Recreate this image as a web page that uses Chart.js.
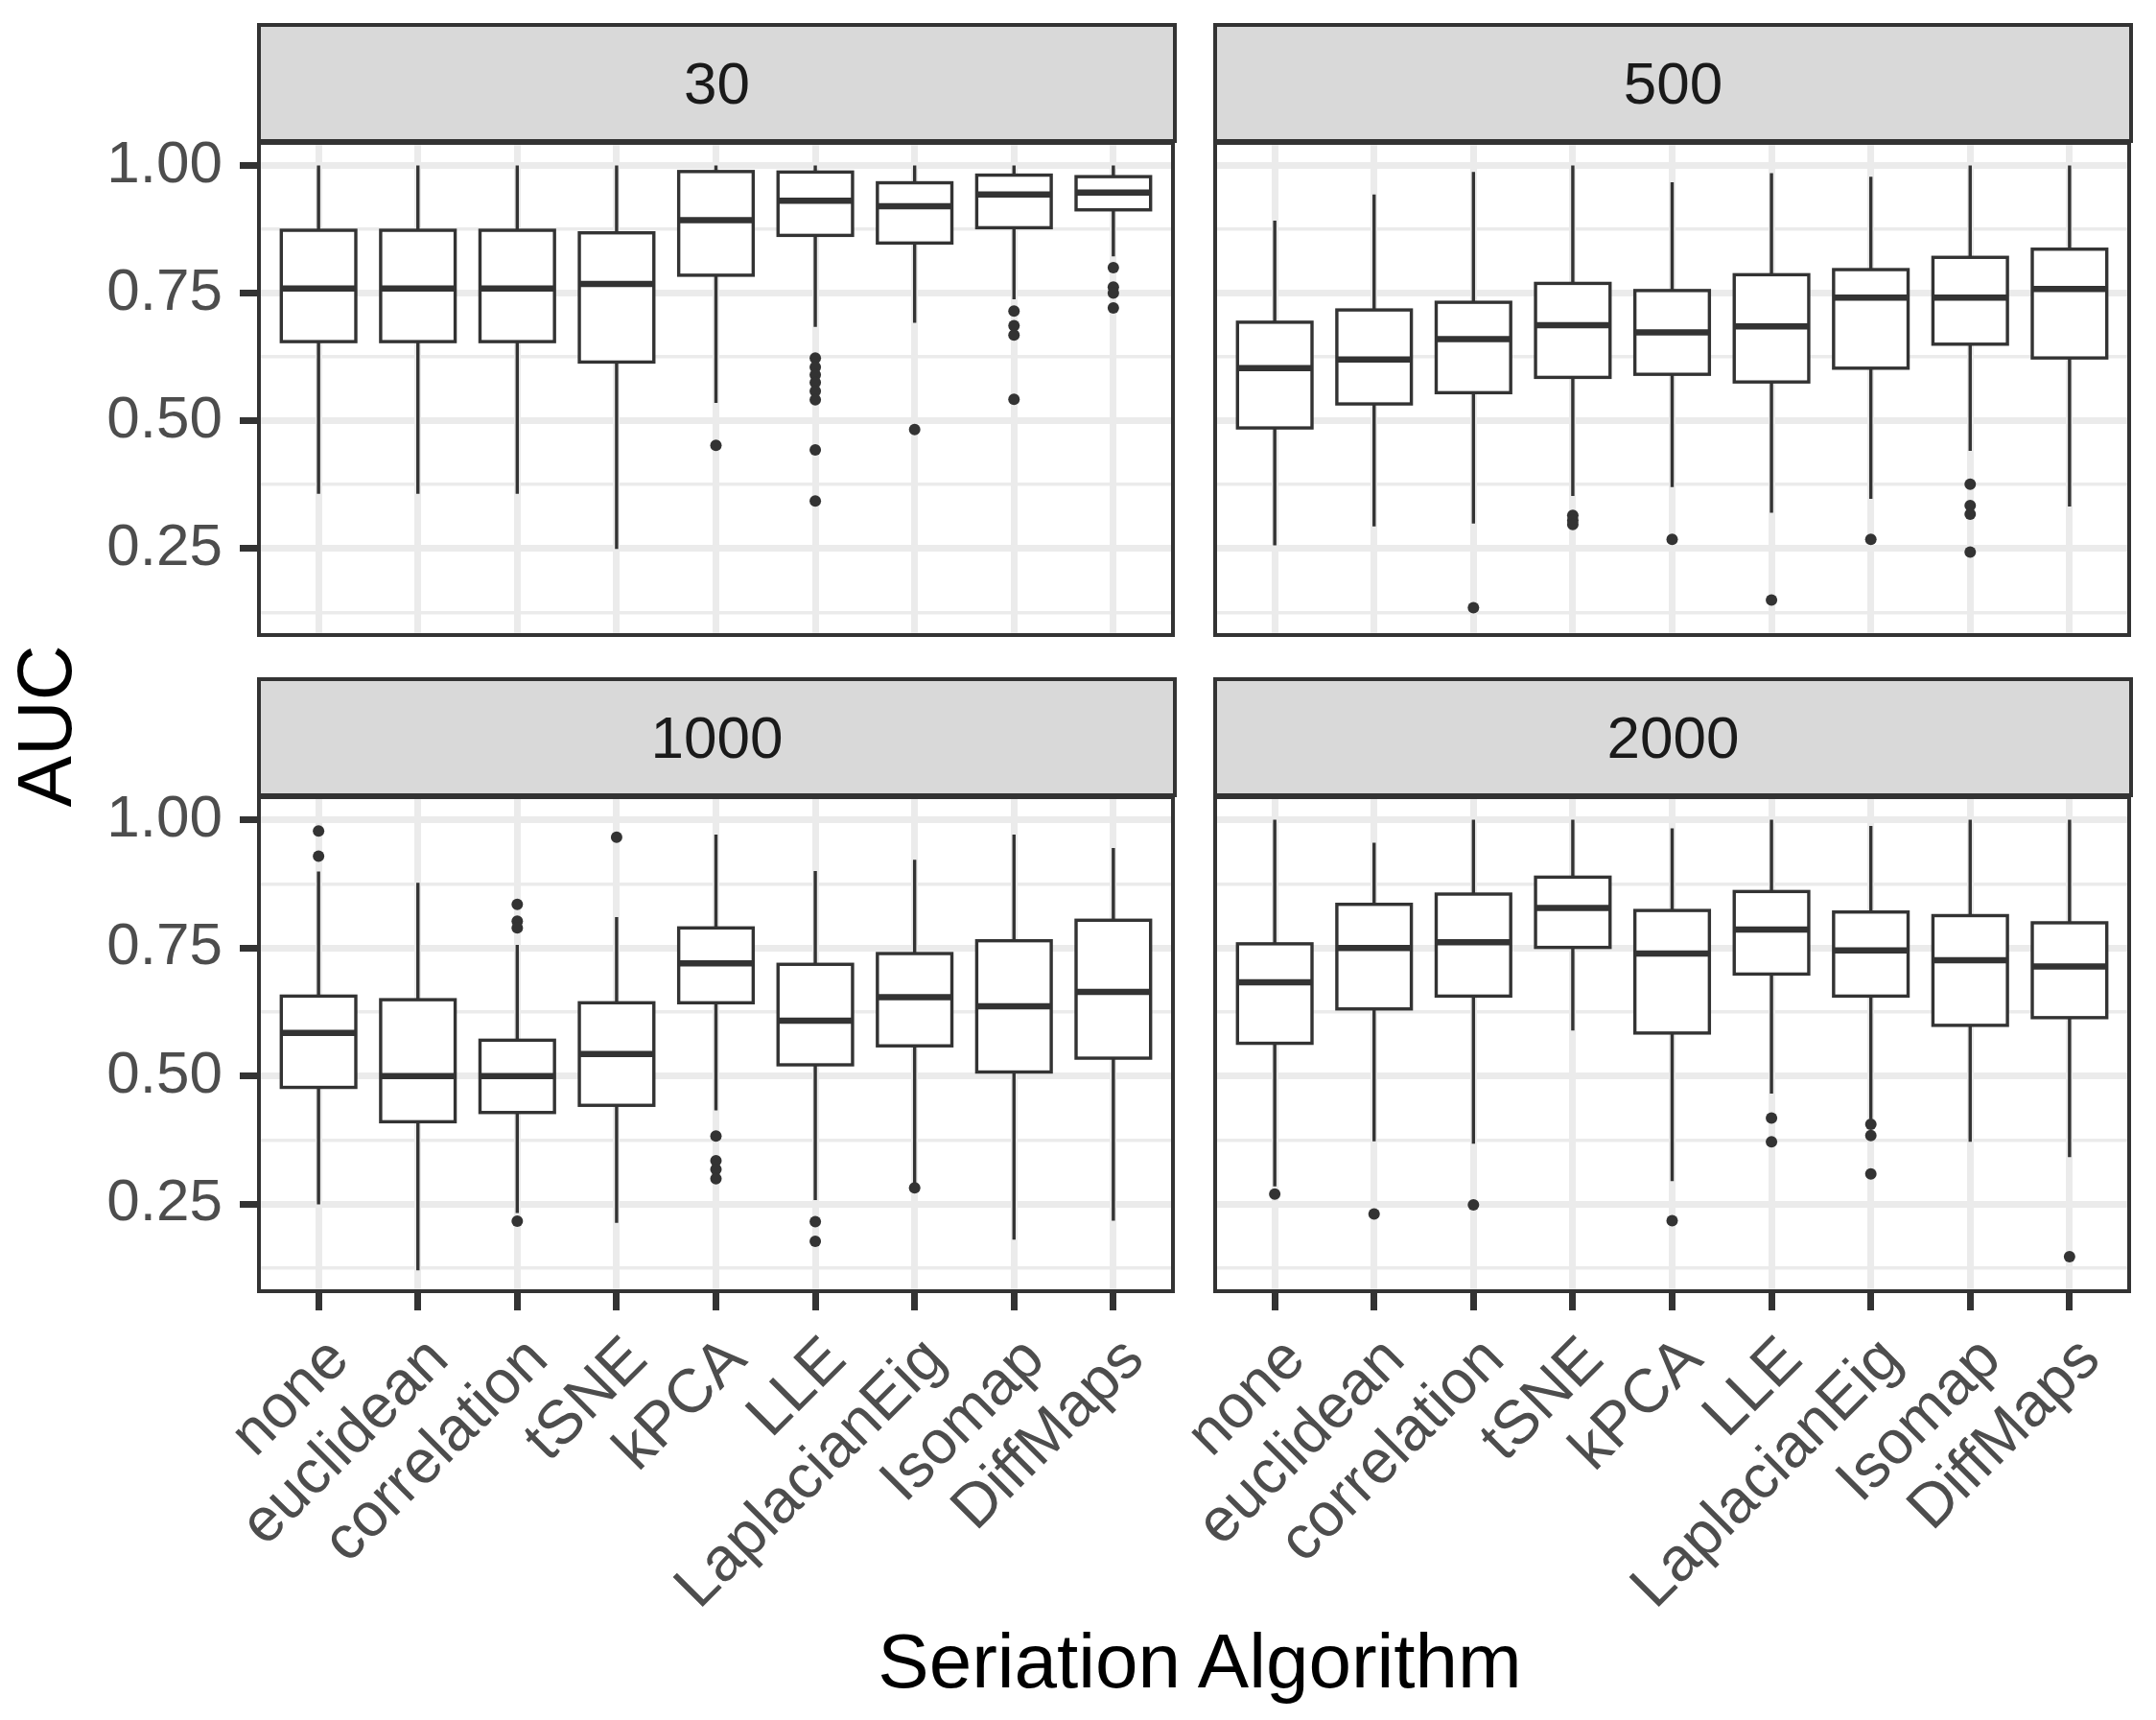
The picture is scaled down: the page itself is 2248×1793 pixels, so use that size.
<!DOCTYPE html>
<html>
<head>
<meta charset="utf-8">
<script src="https://cdn.jsdelivr.net/npm/chart.js@4.4.1/dist/chart.umd.min.js"></script>
<style>
  html, body { margin: 0; padding: 0; background: #fff; }
  body { width: 2248px; height: 1793px; position: relative; overflow: hidden;
         font-family: 'Liberation Sans', Arial, sans-serif; }
  .panel { position: absolute; }
  .strip { position: absolute; background: #D9D9D9; border: 4px solid #333; box-sizing: border-box;
           color: #1A1A1A; font-size: 62px; display: flex; align-items: center; justify-content: center; }
  .title { position: absolute; color: #000; font-size: 80px; white-space: nowrap; }
</style>
</head>
<body>
<div class="title" style="left:47px; top:757px; transform: translate(-50%,-50%) rotate(-90deg);">AUC</div>
<div class="title" style="left:1251px; top:1732px; transform: translate(-50%,-50%);">Seriation Algorithm</div>
<script>
// categories and facet titles
const algorithms = ['none', 'euclidean', 'correlation', 'tSNE', 'kPCA', 'LLE', 'LaplacianEig', 'Isomap', 'DiffMaps'];
const facetTitles = ['30', '500', '1000', '2000'];

// y axis
const yMin = 0.0805, yMax = 1.044;
const yMajor = [0.25, 0.5, 0.75, 1.0];
const yMinor = [0.125, 0.375, 0.625, 0.875];

// facet "30"
const lower30  = [0.357, 0.357, 0.357, 0.249, 0.535, 0.684, 0.692, 0.738, 0.822];
const q1_30    = [0.655, 0.655, 0.655, 0.615, 0.785, 0.863, 0.848, 0.878, 0.913];
const median30 = [0.759, 0.759, 0.759, 0.768, 0.893, 0.931, 0.920, 0.943, 0.947];
const q3_30    = [0.873, 0.873, 0.873, 0.868, 0.988, 0.987, 0.966, 0.981, 0.978];
const upper30  = [1.000, 1.000, 1.000, 1.000, 1.000, 1.000, 1.000, 1.000, 1.000];
const outliers30 = [[], [], [], [], [0.452], [0.623, 0.605, 0.590, 0.575, 0.558, 0.541, 0.443, 0.343],
                    [0.483], [0.715, 0.686, 0.668, 0.542], [0.800, 0.762, 0.750, 0.721]];

// facet "500"
const lower500  = [0.256, 0.293, 0.299, 0.353, 0.370, 0.320, 0.347, 0.441, 0.332];
const q1_500    = [0.486, 0.533, 0.555, 0.585, 0.591, 0.576, 0.603, 0.650, 0.623];
const median500 = [0.603, 0.620, 0.660, 0.687, 0.673, 0.685, 0.741, 0.741, 0.758];
const q3_500    = [0.693, 0.717, 0.732, 0.769, 0.755, 0.786, 0.796, 0.820, 0.836];
const upper500  = [0.892, 0.943, 0.987, 1.000, 0.967, 0.985, 0.978, 1.000, 1.000];
const outliers500 = [[], [], [0.134], [0.315, 0.305, 0.297], [0.268], [0.149], [0.268],
                     [0.376, 0.334, 0.317, 0.243], []];

// facet "1000"
const lower1000  = [0.250, 0.121, 0.233, 0.214, 0.433, 0.258, 0.292, 0.181, 0.218];
const q1_1000    = [0.478, 0.411, 0.429, 0.443, 0.643, 0.522, 0.559, 0.508, 0.535];
const median1000 = [0.584, 0.500, 0.500, 0.543, 0.720, 0.608, 0.654, 0.636, 0.664];
const q3_1000    = [0.656, 0.649, 0.570, 0.643, 0.789, 0.718, 0.739, 0.764, 0.804];
const upper1000  = [0.899, 0.877, 0.756, 0.810, 0.971, 0.900, 0.922, 0.971, 0.945];
const outliers1000 = [[0.978, 0.929], [], [0.835, 0.802, 0.789, 0.217], [0.966],
                      [0.383, 0.335, 0.318, 0.300], [0.216, 0.178], [0.282], [], []];

// facet "2000"
const lower2000  = [0.285, 0.373, 0.368, 0.589, 0.295, 0.466, 0.416, 0.372, 0.342];
const q1_2000    = [0.564, 0.631, 0.656, 0.751, 0.584, 0.699, 0.656, 0.599, 0.614];
const median2000 = [0.683, 0.750, 0.761, 0.828, 0.739, 0.786, 0.745, 0.726, 0.714];
const q3_2000    = [0.758, 0.835, 0.855, 0.888, 0.823, 0.860, 0.820, 0.813, 0.799];
const upper2000  = [1.000, 0.955, 1.000, 1.000, 0.983, 1.000, 0.988, 1.000, 1.000];
const outliers2000 = [[0.270], [0.231], [0.249], [], [0.218], [0.418, 0.372],
                      [0.406, 0.384, 0.309], [], [0.148]];

Chart.defaults.font.family = "'Liberation Sans', Arial, sans-serif";

const DARK = '#333333';
const GRID = '#EBEBEB';
const PLOT_W = 955, PLOT_H = 517, YAXIS_W = 270, PAD = 4;
const isMajor = v => yMajor.some(m => Math.abs(m - v) < 1e-9);

// boxes + whiskers drawn from the scales, under the outlier points
function boxPlugin(st) {
  return {
    id: 'boxes',
    beforeDatasetsDraw(chart) {
      const { ctx, chartArea: a, scales: { x, y } } = chart;
      ctx.save();
      ctx.beginPath();
      ctx.rect(a.left, a.top, a.right - a.left, a.bottom - a.top);
      ctx.clip();
      ctx.strokeStyle = DARK;
      st.median.forEach((m, i) => {
        const cx = x.getPixelForValue(i);
        const x0 = x.getPixelForValue(i - 0.375);
        const x1 = x.getPixelForValue(i + 0.375);
        const yq1 = y.getPixelForValue(st.q1[i]);
        const yq3 = y.getPixelForValue(st.q3[i]);
        ctx.lineWidth = 3.4;
        ctx.beginPath();
        ctx.moveTo(cx, y.getPixelForValue(st.upper[i])); ctx.lineTo(cx, yq3);
        ctx.moveTo(cx, yq1); ctx.lineTo(cx, y.getPixelForValue(st.lower[i]));
        ctx.stroke();
        ctx.fillStyle = '#fff';
        ctx.fillRect(x0, yq3, x1 - x0, yq1 - yq3);
        ctx.strokeRect(x0, yq3, x1 - x0, yq1 - yq3);
        ctx.lineWidth = 6.5;
        ctx.beginPath();
        const ym = y.getPixelForValue(m);
        ctx.moveTo(x0, ym); ctx.lineTo(x1, ym);
        ctx.stroke();
      });
      ctx.restore();
    },
    afterDraw(chart) {
      const { ctx, chartArea: a } = chart;
      ctx.save();
      ctx.strokeStyle = DARK;
      ctx.lineWidth = 4;
      ctx.strokeRect(a.left, a.top, a.right - a.left, a.bottom - a.top);
      ctx.restore();
    }
  };
}

function makePanel(st, plotLeft, plotTop, showY, showX) {
  const axisH = showX ? 420 : PAD;
  const div = document.createElement('div');
  div.className = 'panel';
  div.style.left = (plotLeft - YAXIS_W) + 'px';
  div.style.top = (plotTop - PAD) + 'px';
  div.style.width = (YAXIS_W + PLOT_W + PAD) + 'px';
  div.style.height = (PAD + PLOT_H + axisH) + 'px';
  const cv = document.createElement('canvas');
  div.appendChild(cv);
  document.body.appendChild(div);

  const strip = document.createElement('div');
  strip.className = 'strip';
  strip.style.left = (plotLeft - 2) + 'px';
  strip.style.top = (plotTop - 123) + 'px';
  strip.style.width = (PLOT_W + 4) + 'px';
  strip.style.height = '125px';
  strip.textContent = st.title;
  document.body.appendChild(strip);

  const points = [];
  st.outliers.forEach((arr, i) => arr.forEach(v => points.push({ x: i, y: v })));

  new Chart(cv, {
    type: 'scatter',
    data: {
      datasets: [{
        data: points,
        backgroundColor: DARK,
        borderWidth: 0,
        pointRadius: 6,
        pointHoverRadius: 6
      }]
    },
    options: {
      responsive: true,
      maintainAspectRatio: false,
      animation: false,
      events: [],
      layout: { padding: { top: PAD, right: PAD, left: 0, bottom: 0 } },
      plugins: { legend: { display: false }, tooltip: { enabled: false } },
      scales: {
        x: {
          type: 'linear', min: -0.6, max: 8.6,
          afterBuildTicks: s => { s.ticks = algorithms.map((_, i) => ({ value: i })); },
          afterFit: s => { s.height = axisH; s.paddingLeft = 0; s.paddingRight = 0; },
          border: { display: false },
          grid: { color: GRID, lineWidth: 7, drawTicks: showX, tickLength: 20, tickColor: DARK, tickWidth: 7 },
          ticks: {
            display: showX, autoSkip: false, minRotation: 45, maxRotation: 45, padding: 14, labelOffset: 22,
            color: '#4D4D4D', font: { size: 64 },
            callback: v => algorithms[v]
          }
        },
        y: {
          min: yMin, max: yMax,
          afterBuildTicks: s => { s.ticks = yMinor.concat(yMajor).sort((a, b) => a - b).map(v => ({ value: v })); },
          afterFit: s => { s.width = YAXIS_W; s.paddingTop = 0; s.paddingBottom = 0; },
          border: { display: false },
          grid: {
            color: GRID,
            lineWidth: c => isMajor(c.tick.value) ? 7 : 3.5,
            drawTicks: showY, tickLength: 20,
            tickColor: c => isMajor(c.tick.value) ? DARK : 'rgba(0,0,0,0)',
            tickWidth: 7
          },
          ticks: {
            display: showY, autoSkip: false, padding: 18, color: '#4D4D4D', font: { size: 62 },
            callback: v => isMajor(v) ? v.toFixed(2) : ''
          }
        }
      }
    },
    plugins: [boxPlugin(st)]
  });
}

const panels = [
  { title: facetTitles[0], lower: lower30, q1: q1_30, median: median30, q3: q3_30, upper: upper30, outliers: outliers30 },
  { title: facetTitles[1], lower: lower500, q1: q1_500, median: median500, q3: q3_500, upper: upper500, outliers: outliers500 },
  { title: facetTitles[2], lower: lower1000, q1: q1_1000, median: median1000, q3: q3_1000, upper: upper1000, outliers: outliers1000 },
  { title: facetTitles[3], lower: lower2000, q1: q1_2000, median: median2000, q3: q3_2000, upper: upper2000, outliers: outliers2000 }
];

makePanel(panels[0], 270, 147, true, false);
makePanel(panels[1], 1267, 147, false, false);
makePanel(panels[2], 270, 829, true, true);
makePanel(panels[3], 1267, 829, false, true);
</script>
</body>
</html>
